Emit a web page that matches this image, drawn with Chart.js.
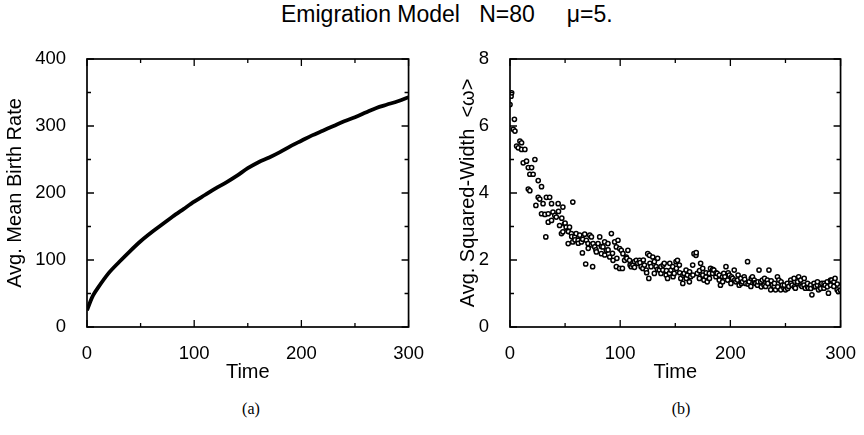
<!DOCTYPE html>
<html>
<head>
<meta charset="UTF-8">
<title>Emigration Model</title>
<script src="https://cdn.jsdelivr.net/npm/chart.js"></script>
<style>
  body { margin: 0; width: 864px; height: 435px; background: #fff; position: relative; overflow: hidden; }
  canvas { position: absolute; top: 0; }
  #chartA { left: 0; }
  #chartB { left: 432px; }
  .txt { position: absolute; color: #000; white-space: pre; }
  #title { left: 281px; top: 1px; font: 23px "Liberation Sans", Arial, sans-serif; }
  .cap { top: 400px; font: 16px "Liberation Serif", "Times New Roman", serif; transform: translateX(-50%); }
</style>
</head>
<body>
<div id="title" class="txt">Emigration Model   N=80     μ=5.</div>
<div class="txt cap" style="left:251px">(a)</div>
<div class="txt cap" style="left:681px">(b)</div>
<canvas id="chartA" width="432" height="435"></canvas>
<canvas id="chartB" width="432" height="435"></canvas>

<script>
// (a) average mean birth rate over time
const birthTime = [0, 5, 10, 20, 30, 40, 50, 60, 70, 80, 90, 100, 110, 120, 130, 140,
  150, 160, 170, 180, 190, 200, 210, 220, 230, 240, 250, 260, 270, 280, 290, 300];
const birthRate = [25, 45, 58, 80, 97, 113, 128, 141, 153, 165, 176, 187, 197, 207, 216, 226,
  237, 246, 253, 261, 270, 278, 286, 293, 300, 307, 313, 320, 327, 332, 337, 343];

// (b) average squared width, one scattered sample per point
const sqTime = [
  0, 1, 1.5, 3, 4, 4.5, 6, 7.5, 9, 10.5,
  10.5, 12, 13.5, 15, 16.6, 16.6, 18, 18, 19.6, 21,
  22.6, 23.5, 25.6, 25.6, 27, 28.6, 28.6, 30, 31.7, 32.5,
  33, 34.7, 34.7, 36, 37.7, 37.7, 39, 40.7, 42, 43.7,
  44, 45, 46.7, 47, 48, 48, 49.5, 50, 51, 52.8,
  52.8, 53, 54, 55.7, 56, 57, 57, 58.8, 59, 60,
  61.8, 62, 63.3, 64.8, 65.7, 66, 67.8, 68.7, 69.3, 70.8,
  71, 72.4, 73.9, 74, 75, 75.4, 76.9, 78, 78.4, 79.9,
  81.4, 82.9, 83, 84.4, 85.9, 86, 87.4, 88.9, 89, 90.5,
  92, 93, 93.5, 95, 96.5, 96.5, 97, 98, 99.5, 99.5,
  101, 102, 102.5, 104, 105.5, 106, 107, 108.5, 109, 110,
  111.6, 113, 113, 114.6, 116, 117.6, 118, 119, 120.6, 121,
  122, 123.6, 124, 125, 126, 126.6, 127, 128, 129.6, 131,
  131, 132.6, 134, 134, 135.6, 137, 137, 138.7, 139, 140,
  141.7, 142, 143, 144.7, 145, 146, 147.7, 148, 149, 150.7,
  151, 152, 153.7, 154, 155, 156.8, 157, 158, 159.8, 160,
  161, 162.8, 163, 164, 165.8, 166, 167, 168.8, 169, 170,
  171.9, 172, 173, 174.9, 175, 176, 177.9, 178, 179, 180.9,
  181, 182, 183.9, 184, 185, 186.9, 187, 188, 189.9, 190,
  191, 192.9, 193, 194, 195, 196, 197.5, 198, 199, 200.5,
  201, 202, 203.5, 204, 205, 206.5, 207, 208, 209.5, 210,
  211, 212.5, 213, 214, 215.6, 216, 217, 218.6, 219, 220,
  221.6, 222, 223, 224.6, 225, 226, 227.6, 228, 229, 230.6,
  231, 232, 233.6, 234, 235, 236.6, 237, 238, 239.7, 240,
  241, 242.7, 243, 244, 245.7, 246, 247, 248.7, 249, 250,
  251.7, 252, 253, 254.8, 255, 256, 257.8, 258, 259, 260.8,
  261, 262, 263.8, 264, 265, 266.8, 267, 268, 269.9, 270,
  271, 272.9, 273, 274, 275.9, 276, 277, 278.9, 279, 280,
  281.9, 282, 283, 284.9, 285, 286, 287.9, 288, 289, 290.9,
  291, 292, 293.9, 294, 295, 296.9, 297, 298, 300
];
const sqWidth = [
  6.64, 6.89, 6.99, 5.90, 6.20, 5.85, 5.40, 5.35, 5.55, 5.50,
  5.30, 4.90, 5.30, 4.95, 4.76, 4.12, 4.56, 4.07, 4.76, 4.56,
  5.00, 3.63, 4.37, 3.87, 3.82, 4.19, 3.38, 3.68, 3.36, 2.69,
  3.87, 3.38, 3.13, 3.87, 3.68, 3.18, 3.43, 3.33, 3.28, 3.68,
  3.45, 3.03, 2.79, 3.25, 3.58, 2.84, 3.08, 3.10, 2.98, 2.88,
  2.49, 2.85, 2.98, 2.79, 2.70, 3.73, 2.54, 2.69, 2.60, 2.79,
  2.59, 2.50, 2.74, 2.54, 2.21, 2.62, 2.77, 1.88, 2.59, 2.49,
  2.35, 2.74, 2.69, 2.45, 1.80, 2.49, 2.39, 2.30, 2.24, 2.49,
  2.69, 2.19, 2.40, 2.39, 2.54, 2.15, 2.29, 2.49, 2.30, 2.09,
  2.79, 2.20, 1.99, 2.54, 2.39, 1.80, 2.05, 2.59, 2.34, 1.75,
  2.29, 1.75, 2.19, 1.99, 2.09, 2.05, 2.29, 1.99, 1.85, 1.80,
  1.85, 1.95, 1.78, 1.99, 1.90, 1.99, 1.92, 1.80, 1.75, 2.00,
  1.85, 1.70, 1.62, 2.19, 1.45, 2.14, 1.90, 1.80, 2.09, 1.60,
  1.95, 1.80, 2.05, 1.72, 1.70, 1.80, 1.60, 1.70, 1.85, 1.90,
  1.55, 1.68, 1.45, 1.60, 1.90, 1.70, 1.80, 1.50, 1.60, 1.95,
  1.75, 1.99, 1.85, 1.62, 1.45, 1.30, 1.55, 1.60, 1.70, 1.45,
  1.55, 1.35, 1.65, 1.50, 1.85, 1.55, 2.19, 2.14, 2.22, 1.60,
  1.45, 1.68, 1.90, 1.75, 1.55, 1.40, 1.50, 1.62, 1.35, 1.60,
  1.45, 1.75, 1.60, 1.72, 1.70, 1.50, 1.62, 1.60, 1.40, 1.55,
  1.25, 1.50, 1.35, 1.60, 1.50, 1.80, 1.40, 1.62, 1.55, 1.30,
  1.50, 1.45, 1.70, 1.40, 1.35, 1.40, 1.55, 1.25, 1.45, 1.30,
  1.35, 1.50, 1.42, 1.30, 1.95, 1.28, 1.35, 1.21, 1.45, 1.50,
  1.40, 1.32, 1.30, 1.25, 1.35, 1.70, 1.35, 1.20, 1.40, 1.25,
  1.45, 1.21, 1.40, 1.30, 1.70, 1.11, 1.38, 1.25, 1.21, 1.30,
  1.11, 1.50, 1.20, 1.40, 1.11, 1.35, 1.25, 1.16, 1.25, 1.11,
  1.30, 1.15, 1.21, 1.40, 1.30, 1.25, 1.45, 1.20, 1.16, 1.30,
  1.35, 1.50, 1.40, 1.25, 1.21, 1.25, 1.45, 1.16, 1.21, 1.30,
  1.16, 1.25, 1.15, 0.96, 1.30, 1.20, 1.21, 1.25, 1.35, 1.11,
  1.21, 1.15, 1.30, 1.16, 1.30, 1.25, 1.35, 1.20, 1.01, 1.40,
  1.25, 1.40, 1.21, 1.35, 1.45, 1.11, 1.28, 1.06, 1.10
];

const timeTicks = [0, 100, 200, 300];
const birthTicks = [0, 100, 200, 300, 400];
const widthTicks = [0, 2, 4, 6, 8];

const FONT = '"Liberation Sans", Arial, sans-serif';
Chart.defaults.color = '#000';
Chart.defaults.font.family = FONT;

// frame around the plot with inward ticks on all four sides
const frameTicks = {
  id: 'frameTicks',
  afterDraw(chart, args, opts) {
    const {ctx, chartArea: {left, right, top, bottom}, scales: {x, y}} = chart;
    ctx.save();
    ctx.strokeStyle = '#000';
    ctx.lineWidth = 1.7;
    ctx.strokeRect(left, top, right - left, bottom - top);
    ctx.lineWidth = 1.3;
    ctx.beginPath();
    for (let v = x.min; v <= x.max + 1e-9; v += opts.xMinor) {
      const px = x.getPixelForValue(v);
      const len = Math.abs(v % opts.xMajor) < 1e-9 ? 7 : 4;
      ctx.moveTo(px, bottom); ctx.lineTo(px, bottom - len);
      ctx.moveTo(px, top); ctx.lineTo(px, top + len);
    }
    for (let v = y.min; v <= y.max + 1e-9; v += opts.yMinor) {
      const py = y.getPixelForValue(v);
      const len = Math.abs(v % opts.yMajor) < 1e-9 ? 7 : 4;
      ctx.moveTo(left, py); ctx.lineTo(left + len, py);
      ctx.moveTo(right, py); ctx.lineTo(right - len, py);
    }
    ctx.stroke();
    ctx.restore();
  }
};

function axes(yMin, yMax, yTicks, yTitle, yWidth, yTitlePad) {
  return {
    x: {
      type: 'linear', min: 0, max: 300,
      afterBuildTicks: s => { s.ticks = timeTicks.map(v => ({value: v})); },
      ticks: {font: {size: 18.5}, padding: 8, maxRotation: 0},
      grid: {display: false},
      border: {display: false},
      title: {display: true, text: 'Time', font: {size: 20}, padding: {top: 0, bottom: 3}},
      afterFit: s => { s.height = 60; }
    },
    y: {
      type: 'linear', min: yMin, max: yMax,
      afterBuildTicks: s => { s.ticks = yTicks.map(v => ({value: v})); },
      ticks: {font: {size: 18.5}, padding: 13},
      grid: {display: false},
      border: {display: false},
      title: {display: true, text: yTitle, font: {size: 20}, padding: {top: yTitlePad, bottom: 0}},
      afterFit: s => { s.width = yWidth; }
    }
  };
}

new Chart(document.getElementById('chartA'), {
  type: 'scatter',
  data: {
    datasets: [{
      data: birthTime.map((t, i) => ({x: t, y: birthRate[i]})),
      showLine: true,
      borderColor: '#000',
      borderWidth: 3.8,
      pointRadius: 0,
      tension: 0.3
    }]
  },
  options: {
    responsive: false,
    animation: false,
    layout: {padding: {left: 0, right: 17, top: 59, bottom: 48}},
    scales: axes(0, 400, birthTicks, 'Avg. Mean Birth Rate', 87, 3),
    plugins: {
      legend: {display: false},
      tooltip: {enabled: false},
      frameTicks: {xMinor: 50, xMajor: 100, yMinor: 50, yMajor: 100}
    }
  },
  plugins: [frameTicks]
});

new Chart(document.getElementById('chartB'), {
  type: 'scatter',
  data: {
    datasets: [{
      data: sqTime.map((t, i) => ({x: t, y: sqWidth[i]})),
      pointRadius: 2.1,
      pointBorderWidth: 1.5,
      borderColor: '#000',
      backgroundColor: '#fff'
    }]
  },
  options: {
    responsive: false,
    animation: false,
    layout: {padding: {left: 0, right: 22, top: 59, bottom: 48}},
    scales: axes(0, 8, widthTicks, 'Avg. Squared-Width  <ω>', 78, 24),
    plugins: {
      legend: {display: false},
      tooltip: {enabled: false},
      frameTicks: {xMinor: 50, xMajor: 100, yMinor: 1, yMajor: 2}
    }
  },
  plugins: [frameTicks]
});
</script>
</body>
</html>
